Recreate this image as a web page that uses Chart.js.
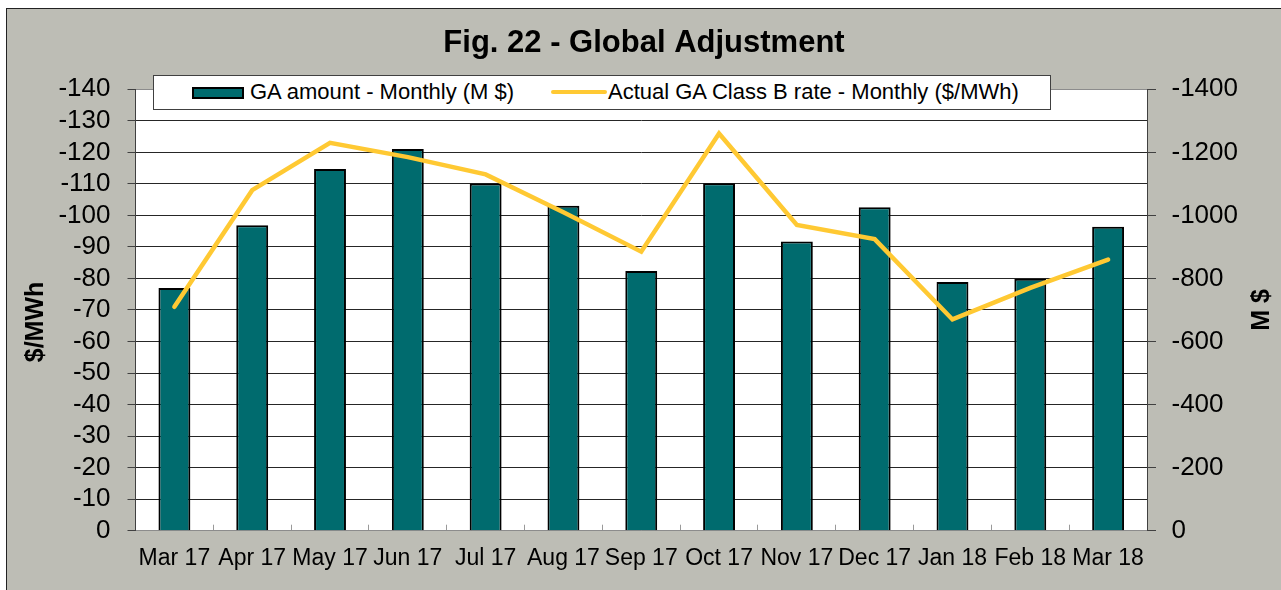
<!DOCTYPE html>
<html>
<head>
<meta charset="utf-8">
<script src="https://cdn.jsdelivr.net/npm/chart.js@4.4.1/dist/chart.umd.min.js"></script>
<style>
  html, body { margin: 0; padding: 0; background: #fff; width: 1281px; height: 590px; overflow: hidden; }
  body { position: relative; font-family: "Liberation Sans", Arial, sans-serif; }
  #frame { position: absolute; left: 6px; top: 8px; width: 1274px; height: 581px;
           border-left: 1px solid #222; border-top: 1px solid #222; background: #BDBDB5; }
  #c { display: block; }
  .lg { position: absolute; }
  #lg-box { left: 153px; top: 75px; width: 898px; height: 35px; box-sizing: border-box;
            background: #fff; border: 1px solid #404040; }
  #lg-bar { left: 192px; top: 87px; width: 52px; height: 12px; box-sizing: border-box;
            background: #006B6E; border: 2px solid #000; }
  #lg-line { left: 551px; top: 89.5px; width: 56px; height: 4.5px; border-radius: 3px; background: #FFC933; }
  .lg-txt { font-size: 22px; line-height: 22px; color: #000; white-space: nowrap; top: 81.4px; }
  #lg-t1 { left: 250px; }
  #lg-t2 { left: 608px; }
</style>
</head>
<body>
<div id="frame"><canvas id="c" width="1274" height="581"></canvas></div>
<div class="lg" id="lg-box"></div>
<div class="lg" id="lg-bar"></div>
<div class="lg lg-txt" id="lg-t1">GA amount - Monthly (M $)</div>
<div class="lg" id="lg-line"></div>
<div class="lg lg-txt" id="lg-t2">Actual GA Class B rate - Monthly ($/MWh)</div>
<script>
// Fig. 22 - Global Adjustment: monthly GA amount (bars, right axis M $) and Class B rate (line, left axis $/MWh)

const months = ['Mar 17', 'Apr 17', 'May 17', 'Jun 17', 'Jul 17', 'Aug 17', 'Sep 17',
  'Oct 17', 'Nov 17', 'Dec 17', 'Jan 18', 'Feb 18', 'Mar 18'];

// GA amount - Monthly (M $)
const gaAmount = [-770, -969, -1147, -1211, -1101, -1031, -824, -1102, -917, -1026, -789, -799, -964];

// Actual GA Class B rate - Monthly ($/MWh)
const classBRate = [-71, -108, -123, -118.5, -113, -101, -88.5, -126, -97, -92.5, -67, -77, -86];

// axis ranges
const rateMin = -140, rateMax = 0, rateStep = 10;
const amountMin = -1400, amountMax = 0, amountStep = 200;

const FONT = '"Liberation Sans", Arial, sans-serif';
const TEAL = '#006B6E';
const GOLD = '#FFC933';

const plotBackground = {
  id: 'plotBackground',
  beforeDraw(chart) {
    const { ctx, chartArea: a } = chart;
    ctx.save();
    ctx.fillStyle = '#fff';
    ctx.fillRect(a.left, a.top, a.right - a.left, a.bottom - a.top);
    ctx.restore();
  },
};

// Excel-style axis titles, both reading bottom-to-top
const axisTitles = {
  id: 'axisTitles',
  afterDraw(chart) {
    const { ctx, chartArea: a, scales } = chart;
    const mid = (a.top + a.bottom) / 2;
    const draw = (text, x, y) => {
      ctx.save();
      ctx.translate(x, y);
      ctx.rotate(-Math.PI / 2);
      ctx.font = `bold 25px ${FONT}`;
      ctx.fillStyle = '#000';
      ctx.textAlign = 'center';
      ctx.textBaseline = 'middle';
      ctx.fillText(text, 0, 0);
      ctx.restore();
    };
    draw('$/MWh', scales.y.left + 29, mid + 12);
    draw('M $', scales.y1.right - 19, mid);
  },
};

const gridColor = (ctx) => {
  const v = ctx.tick ? ctx.tick.value : null;
  return (v === rateMin || v === rateMax) ? '#8c8c8c' : '#262626';
};

new Chart(document.getElementById('c'), {
  type: 'bar',
  data: {
    labels: months,
    datasets: [
      {
        type: 'line',
        label: 'Actual GA Class B rate - Monthly ($/MWh)',
        data: classBRate,
        yAxisID: 'y',
        order: 0,
        borderColor: GOLD,
        backgroundColor: GOLD,
        borderWidth: 4.5,
        pointRadius: 0,
        tension: 0,
        borderCapStyle: 'round',
        borderJoinStyle: 'miter',
      },
      {
        type: 'bar',
        label: 'GA amount - Monthly (M $)',
        data: gaAmount,
        yAxisID: 'y1',
        order: 1,
        backgroundColor: TEAL,
        borderColor: '#000',
        borderWidth: 2,
        barPercentage: 0.41,
        categoryPercentage: 1.0,
      },
    ],
  },
  options: {
    responsive: false,
    devicePixelRatio: 1,
    animation: false,
    events: [],
    layout: { padding: 0 },
    plugins: {
      legend: { display: false },
      tooltip: { enabled: false },
      title: {
        display: true,
        text: 'Fig. 22 - Global Adjustment',
        color: '#000',
        font: { family: FONT, size: 31, weight: 'bold' },
        padding: { top: 15.6, bottom: 27.5 },
      },
    },
    scales: {
      x: {
        offset: true,
        grid: { display: true, drawOnChartArea: false, offset: true, tickLength: -6, color: '#9a9a9a' },
        border: { display: true, color: '#8c8c8c', width: 1 },
        ticks: { color: '#000', font: { family: FONT, size: 23 }, padding: 20.5, maxRotation: 0, autoSkip: false },
        afterFit: (s) => { s.height = 59.3; },
      },
      y: {
        position: 'left',
        reverse: true,
        min: rateMin,
        max: rateMax,
        ticks: { stepSize: rateStep, autoSkip: false, color: '#000', font: { family: FONT, size: 26 }, padding: 17,
                 callback: (v) => String(v) },
        grid: { color: gridColor, tickColor: '#404040', tickLength: 8, lineWidth: 1 },
        border: { display: true, color: '#404040', width: 1 },
        afterFit: (s) => { s.width = 128.5; },
      },
      y1: {
        position: 'right',
        reverse: true,
        min: amountMin,
        max: amountMax,
        ticks: { stepSize: amountStep, autoSkip: false, color: '#000', font: { family: FONT, size: 26 }, padding: 15.5,
                 callback: (v) => String(v) },
        grid: { drawOnChartArea: false, tickColor: '#404040', tickLength: 9 },
        border: { display: true, color: '#404040', width: 1 },
        afterFit: (s) => { s.width = 134; },
      },
    },
  },
  plugins: [plotBackground, axisTitles],
});
</script>
</body>
</html>
